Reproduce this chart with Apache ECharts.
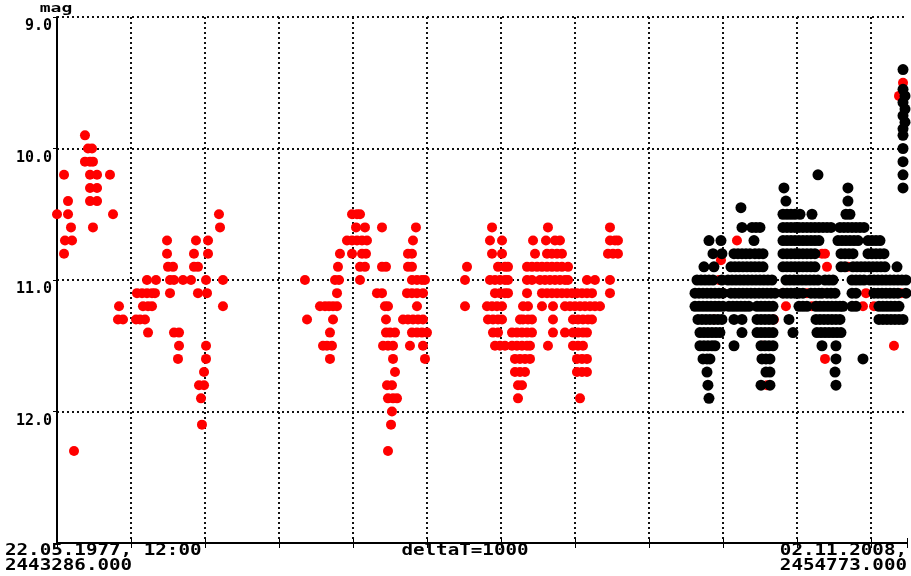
<!DOCTYPE html>
<html>
<head>
<meta charset="utf-8">
<script src="https://cdn.jsdelivr.net/npm/echarts/dist/echarts.min.js"></script>
<style>
  html, body { margin: 0; padding: 0; background: #fff; }
  #main { width: 911px; height: 576px; }
</style>
</head>
<body>
<div id="main"></div>
<script>
// time axis: days counted from JD 2443286.0 (22.05.1977, 12:00) to JD 2454773.0
const JD_START = 2443286.0;
const JD_END = 2454773.0;
const SPAN = JD_END - JD_START;
const DELTA_T = 1000;

const magTicks = ['9.0', '10.0', '11.0', '12.0', ''];

// red points: visual estimates, rows of [mag, [days since JD_START ...]]
const visual1977 = [
  [9.9, [378]], [10.0, [419, 473]], [10.1, [378, 446, 486]], [10.2, [95, 446, 541, 716]],
  [10.3, [446, 541]], [10.4, [149, 446, 541]], [10.5, [0, 149, 757]], [10.6, [189, 486]],
  [10.7, [108, 203]], [10.8, [95]], [12.3, [230]]
];
const visual1979 = [
  [10.5, [2189]], [10.6, [2203]], [10.7, [1487, 1878, 2041]], [10.8, [1487, 1851, 2041]],
  [10.9, [1500, 1568, 1851, 1905]], [11.0, [1216, 1338, 1527, 1581, 1703, 1811, 2014, 2243]],
  [11.1, [1081, 1149, 1216, 1284, 1324, 1527, 1905, 2027]], [11.2, [838, 1162, 1230, 1284, 2243]],
  [11.3, [824, 892, 1068, 1122, 1189]], [11.4, [1230, 1581, 1649]], [11.5, [1649, 2014]],
  [11.6, [1635, 2014]], [11.7, [1987]], [11.8, [1919, 1987]], [11.9, [1946]], [12.1, [1959]]
];
const visual1986 = [
  [10.5, [3987, 4054, 4095]], [10.6, [4041, 4162, 4392, 4851]],
  [10.7, [3919, 3987, 4054, 4122, 4189, 4811]], [10.8, [3824, 3987, 4122, 4176, 4743, 4797]],
  [10.9, [3797, 4095, 4162, 4392, 4446, 4743, 4797]],
  [11.0, [3351, 3757, 3811, 4095, 4797, 4865, 4932, 4973]],
  [11.1, [3784, 4324, 4392, 4730, 4797, 4865, 4946]],
  [11.2, [3554, 3622, 3676, 3730, 3784, 4432, 4473, 4865]],
  [11.3, [3379, 3730, 4446, 4676, 4743, 4811, 4879, 4946]],
  [11.4, [3689, 4446, 4500, 4568, 4797, 4865, 4932, 5000]],
  [11.5, [3595, 3649, 3716, 4406, 4473, 4541, 4770, 4946]],
  [11.6, [3689, 4541, 4973]], [11.7, [4568]], [11.8, [4460, 4527]],
  [11.9, [4473, 4541, 4595]], [12.0, [4527]], [12.1, [4514]], [12.3, [4473]]
];
const visual1993 = [
  [10.6, [5879, 6635, 7473]],
  [10.7, [5851, 6014, 6433, 6608, 6730, 6797, 7473, 7541, 7581]],
  [10.8, [5879, 6014, 6460, 6622, 6689, 6757, 6824, 7446, 7514, 7581]],
  [10.9, [5541, 5960, 6054, 6095, 6352, 6419, 6487, 6554, 6622, 6689, 6757, 6824, 6906]],
  [11.0, [5514, 5851, 5919, 5987, 6054, 6095, 6352, 6419, 6527, 6595, 6662, 6730, 6797, 6865, 6906, 7162, 7270, 7473]],
  [11.1, [5919, 5987, 6054, 6095, 6352, 6554, 6622, 6689, 6757, 6824, 6892, 6960, 7027, 7095, 7162, 7230, 7473]],
  [11.2, [5514, 5811, 5879, 5946, 6014, 6298, 6365, 6554, 6703, 6865, 6933, 7000, 7068, 7135, 7203, 7270, 7338]],
  [11.3, [5824, 5892, 5960, 6014, 6257, 6298, 6365, 6419, 6703, 6973, 7041, 7108, 7176, 7230]],
  [11.4, [5892, 5960, 6149, 6216, 6284, 6352, 6419, 6703, 6865, 6973, 7041, 7108, 7162]],
  [11.5, [5919, 5987, 6054, 6149, 6216, 6284, 6352, 6392, 6635, 6973, 7041, 7108]],
  [11.6, [6189, 6257, 6325, 6392, 7027, 7095, 7162]],
  [11.7, [6189, 6257, 6325, 7027, 7095, 7162]],
  [11.8, [6230, 6284]], [11.9, [6230, 7068]]
];
const visual2001 = [
  [9.5, [11433]], [9.6, [11379]], [10.7, [9189]], [10.8, [10338, 10379]], [10.85, [8973]],
  [10.9, [10406, 10689]], [11.0, [8946, 9081, 10446]],
  [11.1, [9000, 9811, 10135, 10352, 10933, 11406]], [11.2, [8905, 9851, 10203, 10892, 11041]],
  [11.3, [8878, 9689]], [11.5, [9541, 11311]], [11.6, [9527, 10379]], [11.7, [9608]], [11.8, [9595]]
];

// black points: other observations, same layout
const other2001 = [
  [10.7, [8811, 8973]], [10.8, [8865, 8986]], [10.9, [8743, 8878]],
  [11.0, [8649, 8703, 8757, 8811, 8865, 8986]],
  [11.1, [8622, 8676, 8730, 8784, 8838, 8892, 8946, 9000]],
  [11.2, [8622, 8676, 8730, 8784, 8838, 8892, 8946, 9000]],
  [11.3, [8662, 8716, 8770, 8824, 8878, 8932, 8986]],
  [11.4, [8689, 8743, 8797, 8851, 8905, 8959]],
  [11.5, [8689, 8743, 8797, 8851, 8892]],
  [11.6, [8730, 8784, 8824]], [11.7, [8784]], [11.8, [8797]], [11.9, [8811]]
];
const other2002 = [
  [10.45, [9243]], [10.6, [9257, 9392, 9446, 9500]], [10.7, [9419]],
  [10.8, [9149, 9203, 9257, 9311, 9365, 9432, 9487, 9541]],
  [10.9, [9108, 9162, 9216, 9270, 9324, 9378, 9432, 9487, 9541]],
  [11.0, [9068, 9122, 9176, 9230, 9284, 9338, 9392, 9446, 9500, 9554, 9608, 9662]],
  [11.1, [9108, 9162, 9216, 9270, 9324, 9378, 9432, 9487, 9541, 9595, 9649, 9703]],
  [11.2, [9081, 9135, 9189, 9243, 9297, 9351, 9460, 9514, 9568, 9622, 9676]],
  [11.3, [9149, 9257, 9460, 9514, 9568, 9622, 9676]],
  [11.4, [9257, 9460, 9514, 9568, 9622, 9676]],
  [11.5, [9149, 9514, 9568, 9622, 9676]],
  [11.6, [9527, 9581, 9635]], [11.7, [9581, 9635]], [11.8, [9514, 9635]]
];
const other2004 = [
  [10.2, [10284]], [10.3, [9824]], [10.4, [9851]],
  [10.5, [9811, 9865, 9919, 9973, 10041, 10203]],
  [10.6, [9811, 9865, 9919, 9973, 10027, 10081, 10135, 10189, 10243, 10297, 10352, 10406, 10460]],
  [10.7, [9811, 9865, 9919, 9973, 10027, 10081, 10135, 10189, 10243, 10297]],
  [10.8, [9811, 9865, 9919, 9973, 10027, 10081, 10135, 10189, 10243]],
  [10.9, [9811, 9865, 9919, 9973, 10027, 10081, 10135, 10189, 10243]],
  [11.0, [9851, 9905, 9960, 10014, 10068, 10122, 10176, 10230, 10284, 10379, 10433, 10487]],
  [11.1, [9811, 9865, 9919, 9973, 10027, 10081, 10189, 10243, 10297, 10338, 10406, 10460, 10514]],
  [11.2, [10027, 10081, 10135, 10257, 10311, 10365, 10419, 10473, 10527, 10581, 10622]],
  [11.3, [9892, 10257, 10311, 10365, 10419, 10473, 10527, 10581]],
  [11.4, [9946, 10270, 10324, 10379, 10433, 10487, 10541, 10595]],
  [11.5, [10338, 10527]], [11.6, [10527]], [11.7, [10514]], [11.8, [10527]]
];
const other2006 = [
  [10.3, [10689]], [10.4, [10689]], [10.5, [10662, 10716]],
  [10.6, [10581, 10635, 10689, 10744, 10798, 10852, 10906]],
  [10.7, [10554, 10608, 10662, 10716, 10771, 10825, 10960, 11014, 11068, 11122]],
  [10.8, [10595, 10649, 10703, 10757, 10960, 11014, 11068, 11122, 11176]],
  [10.9, [10595, 10649, 10757, 10811, 10865, 10919, 10973, 11027, 11081, 11135, 11189, 11352]],
  [11.0, [10744, 10798, 10852, 10906, 10987, 11041, 11095, 11149, 11203, 11257, 11311, 11365, 11419, 11473]],
  [11.1, [10744, 10798, 11041, 11095, 11149, 11203, 11257, 11311, 11365, 11473]],
  [11.2, [10744, 10798, 11108, 11162, 11216, 11270, 11324, 11379]],
  [11.3, [11108, 11162, 11216, 11270, 11324, 11379, 11433]],
  [11.6, [10892]]
];
const other2008 = [
  [9.4, [11433]], [9.55, [11433]], [9.6, [11460]], [9.65, [11433]], [9.7, [11460]],
  [9.75, [11433]], [9.8, [11460]], [9.85, [11433]], [9.9, [11433]],
  [10.0, [11433]], [10.1, [11433]], [10.2, [11433]], [10.3, [11433]]
];

function toPoints(groups) {
  let pts = [];
  groups.forEach(function (rows) {
    rows.forEach(function (r) {
      r[1].forEach(function (t) { pts.push([t, r[0]]); });
    });
  });
  return pts;
}

const FONT = '"DejaVu Sans Mono", monospace';
const DOT = [2, 3];

let myChart = echarts.init(document.getElementById('main'), null, { renderer: 'canvas' });

function label(text, x, y, align, size, sx) {
  return {
    type: 'text', x: x, y: y, scaleX: sx || 1.28,
    style: { text: text, font: 'bold ' + (size || 15) + 'px ' + FONT, fill: '#000',
             align: align, verticalAlign: 'middle', textAlign: align, textVerticalAlign: 'middle' }
  };
}

let option = {
  animation: false,
  backgroundColor: '#fff',
  grid: { left: 57, right: 4, top: 17, bottom: 33 },
  xAxis: [{
    type: 'value', min: 0, max: SPAN, interval: DELTA_T,
    axisLine: { lineStyle: { color: '#000', width: 2 } },
    axisTick: { length: 5, lineStyle: { color: '#000', width: 1 } },
    axisLabel: { show: false },
    splitLine: { show: true, showMinLine: false, showMaxLine: false,
                 lineStyle: { color: '#111', type: DOT, width: 2 } }
  }, {
    type: 'value', min: 0, max: SPAN, interval: DELTA_T, position: 'bottom', offset: 0,
    axisLine: { show: false },
    axisTick: { inside: true, length: 5, lineStyle: { color: '#000', width: 1 } },
    axisLabel: { show: false },
    splitLine: { show: false }
  }],
  yAxis: {
    type: 'value', min: 9, max: 13, interval: 1, inverse: true,
    axisLine: { show: true, lineStyle: { color: '#000', width: 2 } },
    axisTick: { show: true, length: 4, lineStyle: { color: '#000' } },
    axisLabel: {
      margin: 5, color: '#000', fontFamily: FONT, fontWeight: 'bold', fontSize: 15,
      verticalAlign: 'top', padding: [2, 0, 0, 0],
      formatter: function (v) { return magTicks[Math.round(v - 9)]; }
    },
    splitLine: { show: true, showMaxLine: false, lineStyle: { color: '#111', type: DOT, width: 2 } }
  },
  series: [
    {
      type: 'scatter', xAxisIndex: 0, silent: true,
      symbol: 'circle', symbolSize: 10,
      itemStyle: { color: '#ff0000', opacity: 1 },
      data: toPoints([visual1977, visual1979, visual1986, visual1993, visual2001])
    },
    {
      type: 'scatter', xAxisIndex: 0, silent: true,
      symbol: 'circle', symbolSize: 11,
      itemStyle: { color: '#000', opacity: 1 },
      data: toPoints([other2001, other2002, other2004, other2006, other2008])
    }
  ],
  graphic: [
    label('mag', 56, 9, 'center', 12, 1.5),
    label('22.05.1977, 12:00', 5, 551, 'left'),
    label(JD_START.toFixed(3), 5, 566, 'left'),
    label('deltaT=' + DELTA_T, 465, 551, 'center'),
    label('02.11.2008,', 907, 551, 'right'),
    label(JD_END.toFixed(3), 907, 566, 'right')
  ]
};

myChart.setOption(option);
</script>
</body>
</html>
